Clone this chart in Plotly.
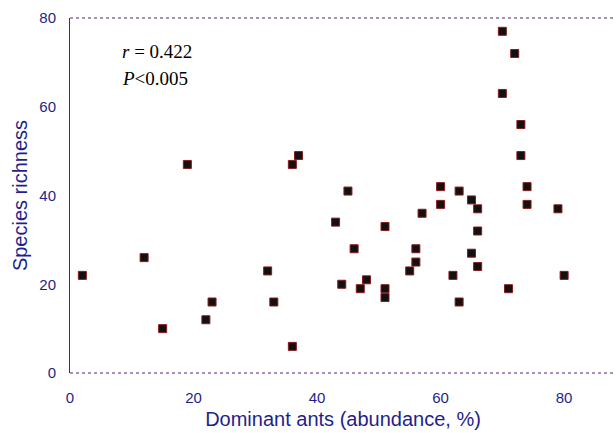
import plotly.graph_objects as go

dominance = [2, 12, 15, 19, 22, 23, 32, 33, 36, 36, 37, 43, 44, 45, 46, 47, 48,
             51, 51, 51, 55, 56, 56, 57, 60, 60, 62, 63, 63, 65, 65, 66, 66, 66,
             70, 70, 71, 72, 73, 73, 74, 74, 79, 80]
richness = [22, 26, 10, 47, 12, 16, 23, 16, 6, 47, 49, 34, 20, 41, 28, 19, 21,
            19, 17, 33, 23, 28, 25, 36, 42, 38, 22, 41, 16, 39, 27, 37, 32, 24,
            77, 63, 19, 72, 56, 49, 42, 38, 37, 22]
x_ticks = [0, 20, 40, 60, 80]
y_ticks = [0, 20, 40, 60, 80]

navy = "#1f1f8c"
axis_col = "#5a1e6e"

fig = go.Figure()
fig.add_trace(go.Scatter(
    x=dominance, y=richness, mode="markers",
    marker=dict(symbol="square", size=8, color="#111111",
                line=dict(color="#8b1a1a", width=1)),
    showlegend=False, cliponaxis=False,
))

fig.update_layout(
    width=616, height=433,
    margin=dict(l=70, r=0, t=18, b=60),
    plot_bgcolor="white", paper_bgcolor="white",
    font=dict(family="Arial, Liberation Sans, sans-serif", color=navy),
    xaxis=dict(range=[0, 88.4], tickvals=x_ticks, showgrid=False, zeroline=False,
               showline=False, ticks="", ticklabelstandoff=14,
               tickfont=dict(size=15, color=navy),
               title=dict(text="Dominant ants (abundance, %)", font=dict(size=20, color=navy),
                          standoff=6)),
    yaxis=dict(range=[0, 80], tickvals=y_ticks, showgrid=False, zeroline=False,
               showline=True, linecolor=axis_col, linewidth=1, ticks="",
               ticklabelstandoff=10,
               tickfont=dict(size=15, color=navy),
               title=dict(text="Species richness", font=dict(size=20, color=navy),
                          standoff=6)),
    shapes=[
        dict(type="line", xref="paper", yref="paper", x0=0, x1=1, y0=1, y1=1,
             line=dict(color=axis_col, width=1, dash="dot")),
        dict(type="line", xref="paper", yref="paper", x0=0, x1=1, y0=0, y1=0,
             line=dict(color=axis_col, width=1, dash="dot")),
    ],
    annotations=[
        dict(text="<i>r</i> = 0.422", x=8.1, y=72.5, xref="x", yref="y",
             xanchor="left", yanchor="middle", showarrow=False,
             font=dict(family="Liberation Serif, Times New Roman, serif", size=19, color="black")),
        dict(text="<i>P</i>&lt;0.005", x=8.1, y=66.3, xref="x", yref="y",
             xanchor="left", yanchor="middle", showarrow=False,
             font=dict(family="Liberation Serif, Times New Roman, serif", size=19, color="black")),
    ],
)

fig.write_html("out.html")
